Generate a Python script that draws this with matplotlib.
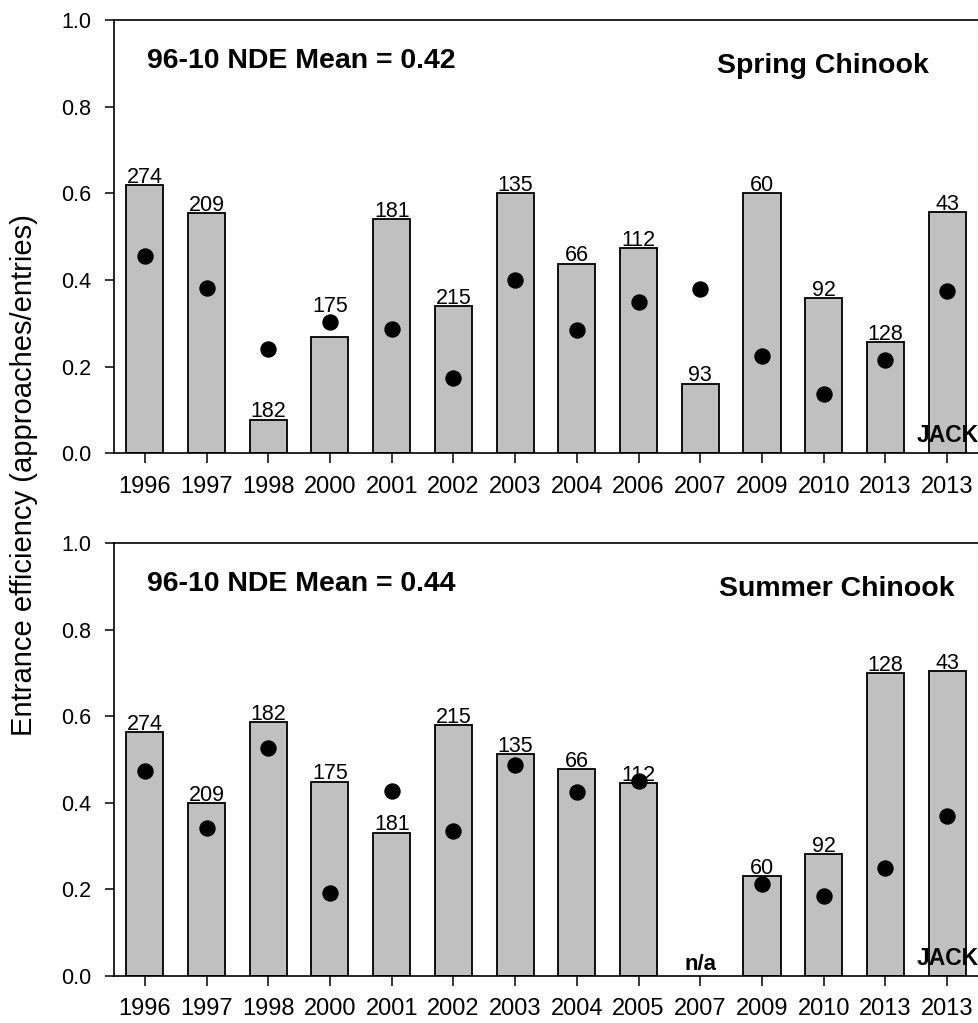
import numpy as np
import matplotlib
matplotlib.use('Agg')
from matplotlib import pyplot as plt

plt.rcParams['font.family'] = ['Liberation Sans', 'DejaVu Sans']

# spring chinook (top)
spring_years = ['1996', '1997', '1998', '2000', '2001', '2002', '2003',
                '2004', '2006', '2007', '2009', '2010', '2013', '2013']
spring_bars = [0.62, 0.555, 0.078, 0.269, 0.541, 0.34, 0.60,
               0.438, 0.473, 0.161, 0.60, 0.358, 0.257, 0.557]
spring_dots = [0.455, 0.382, 0.24, 0.304, 0.286, 0.175, 0.401,
               0.284, 0.35, 0.379, 0.225, 0.136, 0.215, 0.375]
spring_n = ['274', '209', '182', '175', '181', '215', '135',
            '66', '112', '93', '60', '92', '128', '43']
spring_mean = 0.42

# summer chinook (bottom)
summer_years = ['1996', '1997', '1998', '2000', '2001', '2002', '2003',
                '2004', '2005', '2007', '2009', '2010', '2013', '2013']
summer_bars = [0.563, 0.399, 0.587, 0.449, 0.331, 0.58, 0.513,
               0.478, 0.445, np.nan, 0.23, 0.281, 0.70, 0.704]
summer_dots = [0.474, 0.342, 0.526, 0.192, 0.428, 0.335, 0.487,
               0.425, 0.45, np.nan, 0.211, 0.184, 0.25, 0.369]
summer_n = ['274', '209', '182', '175', '181', '215', '135',
            '66', '112', '', '60', '92', '128', '43']
summer_mean = 0.44

fig = plt.figure(figsize=(9.79, 10.23), dpi=100)
ax1 = fig.add_axes([0.1164, 0.5569, 0.8826, 0.4233])
ax2 = fig.add_axes([0.1164, 0.0462, 0.8826, 0.4228])


def panel(ax, years, bars, dots, counts, mean, label_y=None):
    x = np.arange(len(years))
    ax.bar(x, bars, width=0.6, color='#c0c0c0', edgecolor='black',
           linewidth=1.3, zorder=2)
    ax.plot(x, dots, 'o', color='black', markersize=10.8, zorder=3,
            linestyle='none')
    for i, (h, s) in enumerate(zip(bars, counts)):
        if not s:
            continue
        y = h + 0.005
        if label_y and i in label_y:
            y = label_y[i]
        ax.text(i, y, s, ha='center', va='baseline', fontsize=15.5)
    ax.set_xlim(-0.5, 13.5)
    ax.set_ylim(0, 1.0)
    ax.set_xticks(x)
    ax.set_xticklabels(years, fontsize=17)
    ax.set_yticks(np.arange(0, 1.01, 0.2))
    ax.set_yticklabels(['%.1f' % v for v in np.arange(0, 1.01, 0.2)],
                       fontsize=15.5)
    ax.tick_params(axis='x', direction='out', length=7, width=1.1, pad=9)
    ax.tick_params(axis='y', direction='out', length=6.5, width=1.1, pad=10)
    for sp in ['left', 'bottom', 'top']:
        ax.spines[sp].set_linewidth(1.2)
    ax.spines['right'].set_linewidth(0.8)
    ax.spines['right'].set_color('#555555')
    ax.text(0.038, 0.89, '96-10 NDE Mean = %.2f' % mean, transform=ax.transAxes,
            fontsize=20.5, fontweight='bold', ha='left', va='baseline')
    ax.text(12.5, 0.025, 'JACK', fontsize=16.5, fontweight='bold',
            ha='left', va='baseline', zorder=4)
    return x


panel(ax1, spring_years, spring_bars, spring_dots, spring_n, spring_mean,
      label_y={3: 0.327})
ax1.text(0.943, 0.878, 'Spring Chinook', transform=ax1.transAxes,
         fontsize=20.5, fontweight='bold', ha='right', va='baseline')

panel(ax2, summer_years, summer_bars, summer_dots, summer_n, summer_mean)
ax2.text(0.973, 0.878, 'Summer Chinook', transform=ax2.transAxes,
         fontsize=20.5, fontweight='bold', ha='right', va='baseline')
ax2.text(9, 0.013, 'n/a', fontsize=16, fontweight='bold',
         ha='center', va='baseline')

fig.text(0.025, 0.536, 'Entrance efficiency (approaches/entries)',
         rotation=90, ha='center', va='center', fontsize=21)

fig.savefig('out.png', dpi=100)
